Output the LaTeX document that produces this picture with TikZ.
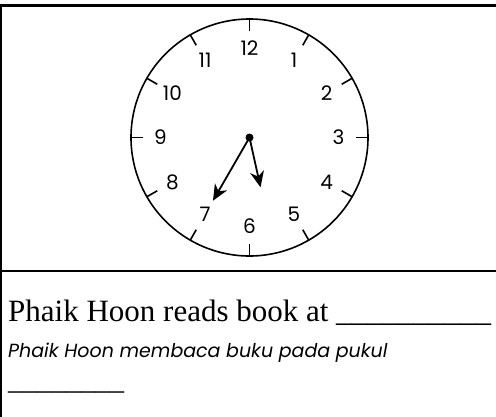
\documentclass[tikz,border=0pt]{standalone}
\usepackage{fontspec}
\setmainfont{Liberation Serif}
\newfontfamily\schoolfont{Poppins}
\usetikzlibrary{arrows.meta}

\tikzset{
  rule/.style={line width=2.2pt},
  rim/.style={line width=1.6pt},
  hand/.style={line width=1.8pt,-{Stealth[length=16pt,width=14pt,inset=5pt]}},
  num/.style={font=\schoolfont\fontsize{20}{24}\selectfont,inner sep=0pt},
  line/.style={anchor=base west,inner sep=0pt}
}

\begin{document}
\begin{tikzpicture}[x=1pt,y=-1pt]
\useasboundingbox (0,0) rectangle (496,416);
\coordinate (TL) at (1,5.5);
\coordinate (TR) at (497,5.5);
\coordinate (CL) at (1,271);
\coordinate (CR) at (497,271);
\coordinate (BL) at (1,417);
\coordinate (C) at (249.5,137.5);

\draw[rule] (TL) -- (TR);
\draw[rule] ([yshift=1.1pt]TL) -- (BL);
\draw[rule] (CL) -- (CR);

\draw[rim] (C) circle (118.5pt);
\foreach \a in {0,30,...,330}
  \draw[rim] ([shift={(\a:106.5pt)}]C) -- ([shift={(\a:119pt)}]C);

\foreach \k in {1,...,12}
  \node[num] (n\k) at ([shift={({90-30*\k}:89pt)}]C) {\k};

\path (C) ++(-77.5:51pt) coordinate (hourtip);
\path (C) ++(240:73pt) coordinate (mintip);
\draw[hand] (C) -- (mintip);
\draw[hand] (C) -- (hourtip);
\node[circle,fill,inner sep=0pt,minimum size=8pt] (pivot) at (C) {};

\node[line,font=\fontsize{31}{36}\selectfont] (en) at (8,321) {Phaik Hoon reads book at \_\_\_\_\_\_\_\_\_\_};
\node[line,font=\schoolfont\itshape\fontsize{19}{23}\selectfont] (ms) at (8,357) {Phaik Hoon membaca buku pada pukul};
\node[line,font=\fontsize{29}{34}\selectfont] (blank) at (8,389) {\_\_\_\_\_\_\_\_};
\end{tikzpicture}
\end{document}
